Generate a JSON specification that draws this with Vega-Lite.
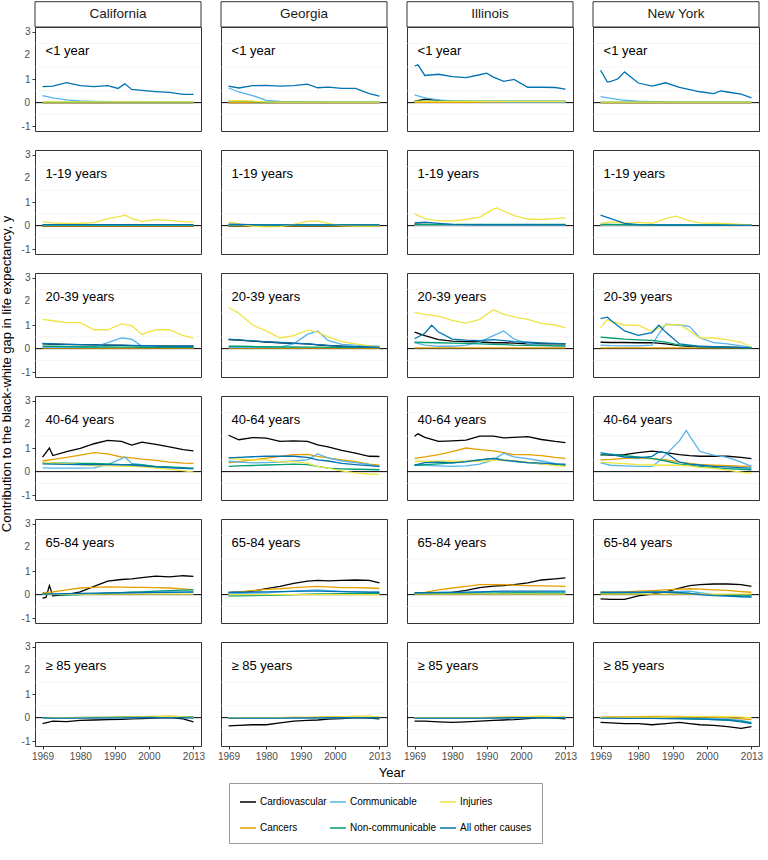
{
"$schema":"https://vega.github.io/schema/vega-lite/v6.json",
"background":"white",
"padding":{"left":0,"top":0,"right":0,"bottom":0},
"bounds":"flush",
"data":{"values":[
{"s":"CA","a":1,"y":1969,"cv":0,"ca":0,"co":0.3,"nc":0.02,"in":0.03,"ot":0.68},
{"s":"CA","a":1,"y":1972,"cv":0,"ca":0,"co":0.2,"nc":0.02,"in":0.03,"ot":0.7},
{"s":"CA","a":1,"y":1976,"cv":0,"ca":0,"co":0.12,"nc":0.02,"in":0.03,"ot":0.85},
{"s":"CA","a":1,"y":1980,"cv":0,"ca":0,"co":0.07,"nc":0.02,"in":0.03,"ot":0.72},
{"s":"CA","a":1,"y":1984,"cv":0,"ca":0,"co":0.05,"nc":0.02,"in":0.03,"ot":0.68},
{"s":"CA","a":1,"y":1988,"cv":0,"ca":0,"co":0.04,"nc":0.02,"in":0.03,"ot":0.72},
{"s":"CA","a":1,"y":1991,"ot":0.6},
{"s":"CA","a":1,"y":1992,"cv":0,"ca":0,"co":0.03,"nc":0.02,"in":0.03,"ot":0.7},
{"s":"CA","a":1,"y":1993,"ot":0.8},
{"s":"CA","a":1,"y":1995,"cv":0,"ca":0,"co":0.03,"nc":0.02,"in":0.03,"ot":0.56},
{"s":"CA","a":1,"y":1998,"cv":0,"ca":0,"co":0.02,"nc":0.02,"in":0.03,"ot":0.52},
{"s":"CA","a":1,"y":2002,"cv":0,"ca":0,"co":0.02,"nc":0.02,"in":0.03,"ot":0.47},
{"s":"CA","a":1,"y":2006,"cv":0,"ca":0,"co":0.02,"nc":0.02,"in":0.03,"ot":0.43},
{"s":"CA","a":1,"y":2010,"cv":0,"ca":0,"co":0.02,"nc":0.02,"in":0.03,"ot":0.35},
{"s":"CA","a":1,"y":2013,"cv":0,"ca":0,"co":0.02,"nc":0.02,"in":0.03,"ot":0.35},
{"s":"CA","a":2,"y":1969,"cv":-0.03,"ca":-0.02,"co":0.01,"nc":0.03,"in":0.16,"ot":0.04},
{"s":"CA","a":2,"y":1972,"cv":-0.03,"ca":-0.02,"co":0.01,"nc":0.03,"in":0.12,"ot":0.04},
{"s":"CA","a":2,"y":1976,"cv":-0.03,"ca":-0.02,"co":0.01,"nc":0.03,"in":0.09,"ot":0.04},
{"s":"CA","a":2,"y":1980,"cv":-0.03,"ca":-0.02,"co":0.01,"nc":0.03,"in":0.1,"ot":0.04},
{"s":"CA","a":2,"y":1984,"cv":-0.03,"ca":-0.02,"co":0.01,"nc":0.03,"in":0.13,"ot":0.04},
{"s":"CA","a":2,"y":1988,"cv":-0.03,"ca":-0.02,"co":0.01,"nc":0.03,"in":0.3,"ot":0.04},
{"s":"CA","a":2,"y":1992,"cv":-0.03,"ca":-0.02,"co":0.01,"nc":0.03,"in":0.4,"ot":0.04},
{"s":"CA","a":2,"y":1993,"in":0.45},
{"s":"CA","a":2,"y":1995,"cv":-0.03,"ca":-0.02,"co":0.01,"nc":0.03,"in":0.3,"ot":0.04},
{"s":"CA","a":2,"y":1998,"cv":-0.03,"ca":-0.02,"co":0.01,"nc":0.03,"in":0.18,"ot":0.04},
{"s":"CA","a":2,"y":2002,"cv":-0.03,"ca":-0.02,"co":0.01,"nc":0.03,"in":0.25,"ot":0.04},
{"s":"CA","a":2,"y":2006,"cv":-0.03,"ca":-0.02,"co":0.01,"nc":0.03,"in":0.22,"ot":0.04},
{"s":"CA","a":2,"y":2010,"cv":-0.03,"ca":-0.02,"co":0.01,"nc":0.03,"in":0.17,"ot":0.04},
{"s":"CA","a":2,"y":2013,"cv":-0.03,"ca":-0.02,"co":0.01,"nc":0.03,"in":0.16,"ot":0.04},
{"s":"CA","a":3,"y":1969,"in":1.24,"co":0.05,"cv":0.2,"ot":0.22,"nc":0.1,"ca":0.02},
{"s":"CA","a":3,"y":1972,"in":1.18,"co":0.05,"cv":0.19,"ot":0.2,"nc":0.1,"ca":0.02},
{"s":"CA","a":3,"y":1976,"in":1.1,"co":0.05,"cv":0.18,"ot":0.18,"nc":0.09,"ca":0.02},
{"s":"CA","a":3,"y":1980,"in":1.1,"co":0.05,"cv":0.17,"ot":0.17,"nc":0.08,"ca":0.02},
{"s":"CA","a":3,"y":1984,"in":0.8,"co":0.06,"cv":0.16,"ot":0.16,"nc":0.07,"ca":0.02},
{"s":"CA","a":3,"y":1988,"in":0.8,"co":0.25,"cv":0.15,"ot":0.15,"nc":0.07,"ca":0.02},
{"s":"CA","a":3,"y":1992,"in":1.05,"co":0.45,"cv":0.14,"ot":0.15,"nc":0.06,"ca":0.02},
{"s":"CA","a":3,"y":1995,"in":0.97,"co":0.4,"cv":0.13,"ot":0.14,"nc":0.06,"ca":0.02},
{"s":"CA","a":3,"y":1998,"in":0.6,"co":0.1,"cv":0.12,"ot":0.13,"nc":0.05,"ca":0.02},
{"s":"CA","a":3,"y":2002,"in":0.8,"co":0.07,"cv":0.11,"ot":0.12,"nc":0.05,"ca":0.02},
{"s":"CA","a":3,"y":2006,"in":0.8,"co":0.06,"cv":0.1,"ot":0.11,"nc":0.05,"ca":0.02},
{"s":"CA","a":3,"y":2010,"in":0.55,"co":0.06,"cv":0.1,"ot":0.1,"nc":0.05,"ca":0.02},
{"s":"CA","a":3,"y":2013,"in":0.45,"co":0.05,"cv":0.1,"ot":0.1,"nc":0.05,"ca":0.02},
{"s":"CA","a":4,"y":1969,"cv":0.61,"ca":0.45,"nc":0.38,"ot":0.33,"co":0.16,"in":0.4},
{"s":"CA","a":4,"y":1971,"cv":1.0},
{"s":"CA","a":4,"y":1972,"cv":0.68,"ca":0.52,"nc":0.37,"ot":0.32,"co":0.15,"in":0.37},
{"s":"CA","a":4,"y":1976,"cv":0.85,"ca":0.6,"nc":0.36,"ot":0.31,"co":0.15,"in":0.34},
{"s":"CA","a":4,"y":1980,"cv":0.98,"ca":0.7,"nc":0.35,"ot":0.3,"co":0.15,"in":0.3},
{"s":"CA","a":4,"y":1984,"cv":1.18,"ca":0.8,"nc":0.35,"ot":0.3,"co":0.16,"in":0.26},
{"s":"CA","a":4,"y":1988,"cv":1.32,"ca":0.75,"nc":0.33,"ot":0.3,"co":0.3,"in":0.24},
{"s":"CA","a":4,"y":1992,"cv":1.28,"ca":0.62,"nc":0.3,"ot":0.29,"co":0.55,"in":0.22},
{"s":"CA","a":4,"y":1993,"co":0.62},
{"s":"CA","a":4,"y":1995,"cv":1.12,"ca":0.58,"nc":0.3,"ot":0.28,"co":0.35,"in":0.22},
{"s":"CA","a":4,"y":1998,"cv":1.25,"ca":0.53,"nc":0.28,"ot":0.25,"co":0.3,"in":0.2},
{"s":"CA","a":4,"y":2002,"cv":1.15,"ca":0.48,"nc":0.22,"ot":0.2,"co":0.2,"in":0.15},
{"s":"CA","a":4,"y":2006,"cv":1.05,"ca":0.4,"nc":0.2,"ot":0.17,"co":0.17,"in":0.1},
{"s":"CA","a":4,"y":2010,"cv":0.93,"ca":0.36,"nc":0.17,"ot":0.14,"co":0.14,"in":0.04},
{"s":"CA","a":4,"y":2013,"cv":0.88,"ca":0.35,"nc":0.15,"ot":0.13,"co":0.13,"in":-0.02},
{"s":"CA","a":5,"y":1969,"cv":-0.15,"ca":0.08,"nc":0.05,"ot":0.03,"co":0.02,"in":0.02},
{"s":"CA","a":5,"y":1970,"cv":-0.12},
{"s":"CA","a":5,"y":1971,"cv":0.38},
{"s":"CA","a":5,"y":1972,"cv":-0.05,"ca":0.12,"nc":0,"ot":0.03,"co":0.02,"in":0.02},
{"s":"CA","a":5,"y":1976,"cv":0,"ca":0.2,"nc":-0.02,"ot":0.04,"co":0.02,"in":0.02},
{"s":"CA","a":5,"y":1980,"cv":0.12,"ca":0.28,"nc":0,"ot":0.05,"co":0.03,"in":0.02},
{"s":"CA","a":5,"y":1984,"cv":0.35,"ca":0.31,"nc":0.03,"ot":0.06,"co":0.04,"in":0.02},
{"s":"CA","a":5,"y":1988,"cv":0.57,"ca":0.33,"nc":0.06,"ot":0.07,"co":0.06,"in":0.02},
{"s":"CA","a":5,"y":1992,"cv":0.64,"ca":0.32,"nc":0.08,"ot":0.08,"co":0.08,"in":0.02},
{"s":"CA","a":5,"y":1995,"cv":0.67,"ca":0.31,"nc":0.1,"ot":0.08,"co":0.1,"in":0.02},
{"s":"CA","a":5,"y":1998,"cv":0.72,"ca":0.31,"nc":0.12,"ot":0.09,"co":0.08,"in":0.02},
{"s":"CA","a":5,"y":2002,"cv":0.78,"ca":0.3,"nc":0.15,"ot":0.1,"co":0.08,"in":0.02},
{"s":"CA","a":5,"y":2006,"cv":0.75,"ca":0.28,"nc":0.17,"ot":0.1,"co":0.09,"in":0.02},
{"s":"CA","a":5,"y":2010,"cv":0.8,"ca":0.24,"nc":0.19,"ot":0.11,"co":0.1,"in":0.02},
{"s":"CA","a":5,"y":2013,"cv":0.77,"ca":0.2,"nc":0.2,"ot":0.12,"co":0.1,"in":0.02},
{"s":"CA","a":6,"y":1969,"cv":-0.25,"ca":-0.02,"in":0,"ot":0,"co":-0.02,"nc":0},
{"s":"CA","a":6,"y":1972,"cv":-0.15,"ca":-0.02,"in":0,"ot":-0.02,"co":-0.02,"nc":0},
{"s":"CA","a":6,"y":1976,"cv":-0.17,"ca":-0.01,"in":0,"ot":-0.02,"co":-0.02,"nc":0},
{"s":"CA","a":6,"y":1980,"cv":-0.12,"ca":0,"in":0,"ot":-0.02,"co":-0.02,"nc":0.01},
{"s":"CA","a":6,"y":1984,"cv":-0.1,"ca":0,"in":0.01,"ot":-0.01,"co":-0.01,"nc":0.01},
{"s":"CA","a":6,"y":1988,"cv":-0.08,"ca":0.01,"in":0.01,"ot":-0.01,"co":-0.01,"nc":0.01},
{"s":"CA","a":6,"y":1992,"cv":-0.07,"ca":0.02,"in":0.01,"ot":-0.01,"co":-0.01,"nc":0.02},
{"s":"CA","a":6,"y":1995,"cv":-0.05,"ca":0.03,"in":0.02,"ot":0,"co":-0.01,"nc":0.02},
{"s":"CA","a":6,"y":1998,"cv":-0.04,"ca":0.04,"in":0.02,"ot":0,"co":0,"nc":0.02},
{"s":"CA","a":6,"y":2002,"cv":-0.02,"ca":0.05,"in":0.03,"ot":0,"co":0,"nc":0.03},
{"s":"CA","a":6,"y":2006,"cv":0,"ca":0.06,"in":0.06,"ot":0,"co":0,"nc":0.03},
{"s":"CA","a":6,"y":2010,"cv":-0.05,"ca":0.04,"in":0.03,"ot":0,"co":0,"nc":0.03},
{"s":"CA","a":6,"y":2013,"cv":-0.18,"ca":0.02,"in":0,"ot":-0.02,"co":0,"nc":0.03},
{"s":"GA","a":1,"y":1969,"ot":0.7,"co":0.62,"in":0.08,"nc":0.06,"cv":0,"ca":0},
{"s":"GA","a":1,"y":1972,"ot":0.62,"co":0.45,"in":0.08,"nc":0.06,"cv":0,"ca":0},
{"s":"GA","a":1,"y":1976,"ot":0.72,"co":0.3,"in":0.06,"nc":0.04,"cv":0,"ca":0},
{"s":"GA","a":1,"y":1980,"ot":0.73,"co":0.1,"in":0.03,"nc":0.02,"cv":0,"ca":0},
{"s":"GA","a":1,"y":1984,"ot":0.7,"co":0.05,"in":0.02,"nc":0.02,"cv":0,"ca":0},
{"s":"GA","a":1,"y":1988,"ot":0.72,"co":0.04,"in":0.02,"nc":0.02,"cv":0,"ca":0},
{"s":"GA","a":1,"y":1992,"ot":0.78,"co":0.03,"in":0.02,"nc":0.02,"cv":0,"ca":0},
{"s":"GA","a":1,"y":1995,"ot":0.63,"co":0.03,"in":0.02,"nc":0.02,"cv":0,"ca":0},
{"s":"GA","a":1,"y":1998,"ot":0.66,"co":0.02,"in":0.02,"nc":0.02,"cv":0,"ca":0},
{"s":"GA","a":1,"y":2002,"ot":0.6,"co":0.02,"in":0.02,"nc":0.02,"cv":0,"ca":0},
{"s":"GA","a":1,"y":2006,"ot":0.6,"co":0.02,"in":0.02,"nc":0.02,"cv":0,"ca":0},
{"s":"GA","a":1,"y":2010,"ot":0.38,"co":0.02,"in":0.02,"nc":0.02,"cv":0,"ca":0},
{"s":"GA","a":1,"y":2013,"ot":0.28,"co":0.02,"in":0.02,"nc":0.02,"cv":0,"ca":0},
{"s":"GA","a":2,"y":1969,"in":0.15,"ot":0.06,"co":0.02,"nc":0.03,"cv":-0.02,"ca":-0.01},
{"s":"GA","a":2,"y":1972,"in":0.08,"ot":0.05,"co":0.02,"nc":0.03,"cv":-0.02,"ca":-0.01},
{"s":"GA","a":2,"y":1976,"in":-0.03,"ot":0.04,"co":0.02,"nc":0.03,"cv":-0.02,"ca":-0.01},
{"s":"GA","a":2,"y":1980,"in":-0.05,"ot":0.03,"co":0.02,"nc":0.03,"cv":-0.02,"ca":-0.01},
{"s":"GA","a":2,"y":1984,"in":-0.04,"ot":0.03,"co":0.02,"nc":0.03,"cv":-0.02,"ca":-0.01},
{"s":"GA","a":2,"y":1988,"in":0.05,"ot":0.03,"co":0.02,"nc":0.03,"cv":-0.02,"ca":-0.01},
{"s":"GA","a":2,"y":1992,"in":0.18,"ot":0.03,"co":0.02,"nc":0.03,"cv":-0.02,"ca":-0.01},
{"s":"GA","a":2,"y":1995,"in":0.2,"ot":0.03,"co":0.02,"nc":0.03,"cv":-0.02,"ca":-0.01},
{"s":"GA","a":2,"y":1998,"in":0.1,"ot":0.03,"co":0.02,"nc":0.03,"cv":-0.02,"ca":-0.01},
{"s":"GA","a":2,"y":2002,"in":0,"ot":0.03,"co":0.02,"nc":0.03,"cv":-0.02,"ca":-0.01},
{"s":"GA","a":2,"y":2006,"in":-0.02,"ot":0.03,"co":0.02,"nc":0.03,"cv":-0.02,"ca":-0.01},
{"s":"GA","a":2,"y":2010,"in":-0.02,"ot":0.03,"co":0.02,"nc":0.03,"cv":-0.02,"ca":-0.01},
{"s":"GA","a":2,"y":2013,"in":-0.02,"ot":0.03,"co":0.02,"nc":0.03,"cv":-0.02,"ca":-0.01},
{"s":"GA","a":3,"y":1969,"in":1.74,"co":0.05,"cv":0.38,"ot":0.4,"nc":0.1,"ca":0.02},
{"s":"GA","a":3,"y":1972,"in":1.5,"co":0.05,"cv":0.36,"ot":0.37,"nc":0.1,"ca":0.02},
{"s":"GA","a":3,"y":1976,"in":1.0,"co":0.05,"cv":0.32,"ot":0.33,"nc":0.09,"ca":0.02},
{"s":"GA","a":3,"y":1980,"in":0.75,"co":0.05,"cv":0.28,"ot":0.29,"nc":0.08,"ca":0.02},
{"s":"GA","a":3,"y":1984,"in":0.45,"co":0.06,"cv":0.25,"ot":0.26,"nc":0.07,"ca":0.02},
{"s":"GA","a":3,"y":1988,"in":0.55,"co":0.2,"cv":0.22,"ot":0.23,"nc":0.07,"ca":0.02},
{"s":"GA","a":3,"y":1992,"in":0.78,"co":0.6,"cv":0.2,"ot":0.2,"nc":0.06,"ca":0.02},
{"s":"GA","a":3,"y":1995,"in":0.7,"co":0.75,"cv":0.16,"ot":0.17,"nc":0.06,"ca":0.02},
{"s":"GA","a":3,"y":1998,"in":0.5,"co":0.35,"cv":0.13,"ot":0.14,"nc":0.05,"ca":0.02},
{"s":"GA","a":3,"y":2002,"in":0.3,"co":0.18,"cv":0.1,"ot":0.1,"nc":0.05,"ca":0.02},
{"s":"GA","a":3,"y":2006,"in":0.2,"co":0.15,"cv":0.08,"ot":0.08,"nc":0.05,"ca":0.02},
{"s":"GA","a":3,"y":2010,"in":0.12,"co":0.12,"cv":0.06,"ot":0.07,"nc":0.05,"ca":0.02},
{"s":"GA","a":3,"y":2013,"in":0.08,"co":0.1,"cv":0.05,"ot":0.06,"nc":0.05,"ca":0.02},
{"s":"GA","a":4,"y":1969,"cv":1.54,"ca":0.37,"ot":0.58,"co":0.44,"in":0.55,"nc":0.22},
{"s":"GA","a":4,"y":1972,"cv":1.35,"ca":0.42,"ot":0.6,"co":0.4,"in":0.53,"nc":0.24},
{"s":"GA","a":4,"y":1976,"cv":1.44,"ca":0.5,"ot":0.63,"co":0.37,"in":0.5,"nc":0.26},
{"s":"GA","a":4,"y":1980,"cv":1.42,"ca":0.57,"ot":0.65,"co":0.38,"in":0.5,"nc":0.28},
{"s":"GA","a":4,"y":1984,"cv":1.28,"ca":0.65,"ot":0.65,"co":0.4,"in":0.4,"nc":0.3},
{"s":"GA","a":4,"y":1988,"cv":1.3,"ca":0.72,"ot":0.65,"co":0.45,"in":0.43,"nc":0.32},
{"s":"GA","a":4,"y":1992,"cv":1.28,"ca":0.73,"ot":0.6,"co":0.5,"in":0.35,"nc":0.3},
{"s":"GA","a":4,"y":1995,"cv":1.13,"ca":0.65,"ot":0.5,"co":0.75,"in":0.22,"nc":0.22},
{"s":"GA","a":4,"y":1998,"cv":1.05,"ca":0.58,"ot":0.45,"co":0.58,"in":0.15,"nc":0.15},
{"s":"GA","a":4,"y":2002,"cv":0.9,"ca":0.5,"ot":0.35,"co":0.45,"in":0.03,"nc":0.12},
{"s":"GA","a":4,"y":2006,"cv":0.78,"ca":0.42,"ot":0.3,"co":0.38,"in":-0.05,"nc":0.1},
{"s":"GA","a":4,"y":2010,"cv":0.65,"ca":0.32,"ot":0.25,"co":0.3,"in":-0.1,"nc":0.09},
{"s":"GA","a":4,"y":2013,"cv":0.64,"ca":0.27,"ot":0.22,"co":0.2,"in":-0.12,"nc":0.08},
{"s":"GA","a":5,"y":1969,"cv":0.08,"ca":0.08,"ot":0.1,"co":0.05,"nc":-0.05,"in":0},
{"s":"GA","a":5,"y":1972,"cv":0.1,"ca":0.12,"ot":0.1,"co":0.05,"nc":-0.05,"in":0},
{"s":"GA","a":5,"y":1976,"cv":0.15,"ca":0.17,"ot":0.11,"co":0.06,"nc":-0.04,"in":0},
{"s":"GA","a":5,"y":1980,"cv":0.25,"ca":0.22,"ot":0.12,"co":0.08,"nc":-0.03,"in":0},
{"s":"GA","a":5,"y":1984,"cv":0.35,"ca":0.25,"ot":0.13,"co":0.12,"nc":-0.02,"in":0},
{"s":"GA","a":5,"y":1988,"cv":0.48,"ca":0.3,"ot":0.14,"co":0.15,"nc":0,"in":0},
{"s":"GA","a":5,"y":1992,"cv":0.57,"ca":0.33,"ot":0.15,"co":0.18,"nc":0.02,"in":0},
{"s":"GA","a":5,"y":1995,"cv":0.6,"ca":0.35,"ot":0.15,"co":0.2,"nc":0.03,"in":0},
{"s":"GA","a":5,"y":1998,"cv":0.58,"ca":0.33,"ot":0.14,"co":0.17,"nc":0.03,"in":0},
{"s":"GA","a":5,"y":2002,"cv":0.6,"ca":0.3,"ot":0.13,"co":0.14,"nc":0.04,"in":0},
{"s":"GA","a":5,"y":2006,"cv":0.62,"ca":0.3,"ot":0.12,"co":0.12,"nc":0.05,"in":0},
{"s":"GA","a":5,"y":2010,"cv":0.6,"ca":0.28,"ot":0.11,"co":0.1,"nc":0.05,"in":0},
{"s":"GA","a":5,"y":2013,"cv":0.5,"ca":0.26,"ot":0.1,"co":0.1,"nc":0.05,"in":0},
{"s":"GA","a":6,"y":1969,"cv":-0.35,"ca":-0.02,"in":0,"ot":-0.02,"co":-0.01,"nc":0},
{"s":"GA","a":6,"y":1972,"cv":-0.33,"ca":-0.02,"in":0,"ot":-0.02,"co":-0.01,"nc":0},
{"s":"GA","a":6,"y":1976,"cv":-0.3,"ca":-0.01,"in":0,"ot":-0.02,"co":-0.01,"nc":0},
{"s":"GA","a":6,"y":1980,"cv":-0.3,"ca":0,"in":0,"ot":-0.02,"co":-0.01,"nc":0},
{"s":"GA","a":6,"y":1984,"cv":-0.22,"ca":0,"in":0,"ot":-0.02,"co":-0.01,"nc":0},
{"s":"GA","a":6,"y":1988,"cv":-0.15,"ca":0.01,"in":0.01,"ot":-0.01,"co":-0.01,"nc":0},
{"s":"GA","a":6,"y":1992,"cv":-0.12,"ca":0.01,"in":0.01,"ot":-0.01,"co":-0.01,"nc":0},
{"s":"GA","a":6,"y":1995,"cv":-0.1,"ca":0.02,"in":0.02,"ot":-0.01,"co":0,"nc":0},
{"s":"GA","a":6,"y":1998,"cv":-0.06,"ca":0.03,"in":0.02,"ot":0,"co":0,"nc":0},
{"s":"GA","a":6,"y":2002,"cv":-0.04,"ca":0.04,"in":0.03,"ot":0,"co":0,"nc":0},
{"s":"GA","a":6,"y":2006,"cv":0,"ca":0.05,"in":0.05,"ot":0,"co":0,"nc":0},
{"s":"GA","a":6,"y":2010,"cv":-0.02,"ca":0.05,"in":0.05,"ot":0,"co":0,"nc":0},
{"s":"GA","a":6,"y":2013,"cv":-0.05,"ca":0.03,"in":0.02,"ot":0,"co":0,"nc":0},
{"s":"IL","a":1,"y":1969,"ot":1.55,"co":0.33,"cv":0.05,"nc":0.06,"in":0.05,"ca":0.01},
{"s":"IL","a":1,"y":1970,"ot":1.6},
{"s":"IL","a":1,"y":1972,"ot":1.15,"co":0.2,"cv":0.15,"nc":0.06,"in":0.05,"ca":0.01},
{"s":"IL","a":1,"y":1976,"ot":1.2,"co":0.12,"cv":0.1,"nc":0.06,"in":0.05,"ca":0.01},
{"s":"IL","a":1,"y":1980,"ot":1.1,"co":0.07,"cv":0.03,"nc":0.06,"in":0.05,"ca":0.01},
{"s":"IL","a":1,"y":1984,"ot":1.06,"co":0.05,"cv":0.02,"nc":0.06,"in":0.05,"ca":0.01},
{"s":"IL","a":1,"y":1988,"ot":1.18,"co":0.04,"cv":0.02,"nc":0.06,"in":0.05,"ca":0.01},
{"s":"IL","a":1,"y":1990,"ot":1.25},
{"s":"IL","a":1,"y":1992,"ot":1.08,"co":0.03,"cv":0.02,"nc":0.06,"in":0.05,"ca":0.01},
{"s":"IL","a":1,"y":1995,"ot":0.9,"co":0.03,"cv":0.02,"nc":0.06,"in":0.05,"ca":0.01},
{"s":"IL","a":1,"y":1998,"ot":0.98,"co":0.02,"cv":0.02,"nc":0.06,"in":0.05,"ca":0.01},
{"s":"IL","a":1,"y":2002,"ot":0.65,"co":0.02,"cv":0.02,"nc":0.06,"in":0.05,"ca":0.01},
{"s":"IL","a":1,"y":2006,"ot":0.65,"co":0.02,"cv":0.02,"nc":0.06,"in":0.05,"ca":0.01},
{"s":"IL","a":1,"y":2010,"ot":0.64,"co":0.02,"cv":0.02,"nc":0.06,"in":0.05,"ca":0.01},
{"s":"IL","a":1,"y":2013,"ot":0.57,"co":0.02,"cv":0.02,"nc":0.06,"in":0.05,"ca":0.01},
{"s":"IL","a":2,"y":1969,"in":0.5,"ot":0.12,"cv":0.06,"nc":0.05,"co":0.02,"ca":0.01},
{"s":"IL","a":2,"y":1972,"in":0.3,"ot":0.15,"cv":0.05,"nc":0.05,"co":0.02,"ca":0.01},
{"s":"IL","a":2,"y":1976,"in":0.2,"ot":0.1,"cv":0.04,"nc":0.05,"co":0.02,"ca":0.01},
{"s":"IL","a":2,"y":1980,"in":0.2,"ot":0.05,"cv":0.03,"nc":0.05,"co":0.02,"ca":0.01},
{"s":"IL","a":2,"y":1984,"in":0.26,"ot":0.04,"cv":0.03,"nc":0.05,"co":0.02,"ca":0.01},
{"s":"IL","a":2,"y":1988,"in":0.36,"ot":0.03,"cv":0.03,"nc":0.05,"co":0.02,"ca":0.01},
{"s":"IL","a":2,"y":1992,"in":0.7,"ot":0.03,"cv":0.03,"nc":0.05,"co":0.02,"ca":0.01},
{"s":"IL","a":2,"y":1993,"in":0.75},
{"s":"IL","a":2,"y":1995,"in":0.62,"ot":0.03,"cv":0.03,"nc":0.05,"co":0.02,"ca":0.01},
{"s":"IL","a":2,"y":1998,"in":0.42,"ot":0.03,"cv":0.03,"nc":0.05,"co":0.02,"ca":0.01},
{"s":"IL","a":2,"y":2002,"in":0.28,"ot":0.03,"cv":0.03,"nc":0.05,"co":0.02,"ca":0.01},
{"s":"IL","a":2,"y":2006,"in":0.26,"ot":0.03,"cv":0.03,"nc":0.05,"co":0.02,"ca":0.01},
{"s":"IL","a":2,"y":2010,"in":0.3,"ot":0.03,"cv":0.03,"nc":0.05,"co":0.02,"ca":0.01},
{"s":"IL","a":2,"y":2013,"in":0.33,"ot":0.03,"cv":0.03,"nc":0.05,"co":0.02,"ca":0.01},
{"s":"IL","a":3,"y":1969,"in":1.53,"ot":0.42,"cv":0.7,"co":0.25,"nc":0.27,"ca":0.03},
{"s":"IL","a":3,"y":1972,"in":1.45,"ot":0.65,"cv":0.55,"co":0.15,"nc":0.26,"ca":0.03},
{"s":"IL","a":3,"y":1974,"ot":0.99},
{"s":"IL","a":3,"y":1976,"in":1.38,"ot":0.7,"cv":0.38,"co":0.1,"nc":0.25,"ca":0.03},
{"s":"IL","a":3,"y":1980,"in":1.2,"ot":0.4,"cv":0.32,"co":0.1,"nc":0.23,"ca":0.03},
{"s":"IL","a":3,"y":1984,"in":1.08,"ot":0.36,"cv":0.3,"co":0.15,"nc":0.22,"ca":0.03},
{"s":"IL","a":3,"y":1988,"in":1.24,"ot":0.34,"cv":0.28,"co":0.28,"nc":0.2,"ca":0.03},
{"s":"IL","a":3,"y":1992,"in":1.65,"ot":0.38,"cv":0.25,"co":0.55,"nc":0.18,"ca":0.03},
{"s":"IL","a":3,"y":1995,"in":1.45,"ot":0.34,"cv":0.25,"co":0.75,"nc":0.17,"ca":0.03},
{"s":"IL","a":3,"y":1998,"in":1.34,"ot":0.3,"cv":0.23,"co":0.4,"nc":0.15,"ca":0.03},
{"s":"IL","a":3,"y":2002,"in":1.24,"ot":0.27,"cv":0.2,"co":0.22,"nc":0.14,"ca":0.03},
{"s":"IL","a":3,"y":2006,"in":1.07,"ot":0.24,"cv":0.2,"co":0.15,"nc":0.13,"ca":0.03},
{"s":"IL","a":3,"y":2010,"in":1.0,"ot":0.22,"cv":0.2,"co":0.12,"nc":0.12,"ca":0.03},
{"s":"IL","a":3,"y":2013,"in":0.88,"ot":0.2,"cv":0.2,"co":0.1,"nc":0.12,"ca":0.03},
{"s":"IL","a":4,"y":1969,"cv":1.5,"ca":0.56,"ot":0.27,"co":0.27,"nc":0.27,"in":0.44},
{"s":"IL","a":4,"y":1970,"cv":1.6},
{"s":"IL","a":4,"y":1972,"cv":1.45,"ca":0.62,"ot":0.38,"co":0.27,"nc":0.3,"in":0.44},
{"s":"IL","a":4,"y":1976,"cv":1.28,"ca":0.72,"ot":0.4,"co":0.24,"nc":0.33,"in":0.44},
{"s":"IL","a":4,"y":1980,"cv":1.3,"ca":0.85,"ot":0.37,"co":0.22,"nc":0.37,"in":0.44},
{"s":"IL","a":4,"y":1984,"cv":1.33,"ca":1.0,"ot":0.42,"co":0.24,"nc":0.42,"in":0.44},
{"s":"IL","a":4,"y":1988,"cv":1.5,"ca":0.93,"ot":0.5,"co":0.32,"nc":0.5,"in":0.44},
{"s":"IL","a":4,"y":1992,"cv":1.5,"ca":0.88,"ot":0.56,"co":0.5,"nc":0.56,"in":0.48},
{"s":"IL","a":4,"y":1995,"cv":1.43,"ca":0.8,"ot":0.48,"co":0.78,"nc":0.5,"in":0.5},
{"s":"IL","a":4,"y":1998,"cv":1.45,"ca":0.72,"ot":0.44,"co":0.62,"nc":0.44,"in":0.45},
{"s":"IL","a":4,"y":2002,"cv":1.48,"ca":0.72,"ot":0.38,"co":0.55,"nc":0.38,"in":0.4},
{"s":"IL","a":4,"y":2006,"cv":1.36,"ca":0.68,"ot":0.36,"co":0.45,"nc":0.33,"in":0.33},
{"s":"IL","a":4,"y":2010,"cv":1.28,"ca":0.6,"ot":0.33,"co":0.35,"nc":0.3,"in":0.26},
{"s":"IL","a":4,"y":2013,"cv":1.23,"ca":0.56,"ot":0.32,"co":0.27,"nc":0.27,"in":0.22},
{"s":"IL","a":5,"y":1969,"cv":0.02,"ca":0.05,"ot":0.08,"co":0.05,"nc":0.05,"in":0.02},
{"s":"IL","a":5,"y":1972,"cv":0.03,"ca":0.1,"ot":0.08,"co":0.05,"nc":0.05,"in":0.02},
{"s":"IL","a":5,"y":1976,"cv":0.05,"ca":0.2,"ot":0.09,"co":0.06,"nc":0.04,"in":0.02},
{"s":"IL","a":5,"y":1980,"cv":0.1,"ca":0.28,"ot":0.1,"co":0.07,"nc":0.04,"in":0.02},
{"s":"IL","a":5,"y":1984,"cv":0.18,"ca":0.35,"ot":0.11,"co":0.08,"nc":0.05,"in":0.02},
{"s":"IL","a":5,"y":1988,"cv":0.3,"ca":0.42,"ot":0.12,"co":0.1,"nc":0.06,"in":0.02},
{"s":"IL","a":5,"y":1992,"cv":0.36,"ca":0.42,"ot":0.14,"co":0.12,"nc":0.06,"in":0.02},
{"s":"IL","a":5,"y":1995,"cv":0.38,"ca":0.42,"ot":0.15,"co":0.12,"nc":0.07,"in":0.02},
{"s":"IL","a":5,"y":1998,"cv":0.42,"ca":0.4,"ot":0.15,"co":0.11,"nc":0.07,"in":0.02},
{"s":"IL","a":5,"y":2002,"cv":0.5,"ca":0.38,"ot":0.15,"co":0.1,"nc":0.07,"in":0.02},
{"s":"IL","a":5,"y":2006,"cv":0.62,"ca":0.37,"ot":0.15,"co":0.1,"nc":0.06,"in":0.02},
{"s":"IL","a":5,"y":2010,"cv":0.67,"ca":0.36,"ot":0.15,"co":0.1,"nc":0.06,"in":0.02},
{"s":"IL","a":5,"y":2013,"cv":0.71,"ca":0.35,"ot":0.15,"co":0.1,"nc":0.05,"in":0.02},
{"s":"IL","a":6,"y":1969,"cv":-0.15,"ca":0,"in":0,"ot":-0.02,"co":-0.01,"nc":0},
{"s":"IL","a":6,"y":1972,"cv":-0.15,"ca":0,"in":0,"ot":-0.02,"co":-0.01,"nc":0},
{"s":"IL","a":6,"y":1976,"cv":-0.18,"ca":0,"in":0,"ot":-0.02,"co":-0.01,"nc":0},
{"s":"IL","a":6,"y":1980,"cv":-0.2,"ca":0,"in":0,"ot":-0.02,"co":-0.01,"nc":0},
{"s":"IL","a":6,"y":1984,"cv":-0.18,"ca":0,"in":0,"ot":-0.02,"co":-0.01,"nc":0},
{"s":"IL","a":6,"y":1988,"cv":-0.15,"ca":0,"in":0,"ot":-0.02,"co":-0.01,"nc":0},
{"s":"IL","a":6,"y":1992,"cv":-0.12,"ca":0.01,"in":0.01,"ot":-0.01,"co":-0.01,"nc":0},
{"s":"IL","a":6,"y":1995,"cv":-0.1,"ca":0.02,"in":0.02,"ot":-0.01,"co":0,"nc":0},
{"s":"IL","a":6,"y":1998,"cv":-0.08,"ca":0.03,"in":0.03,"ot":0,"co":0,"nc":0},
{"s":"IL","a":6,"y":2002,"cv":-0.04,"ca":0.04,"in":0.04,"ot":0,"co":0,"nc":0},
{"s":"IL","a":6,"y":2006,"cv":0,"ca":0.05,"in":0.06,"ot":0,"co":0,"nc":0},
{"s":"IL","a":6,"y":2010,"cv":-0.02,"ca":0.04,"in":0.04,"ot":0,"co":0,"nc":0},
{"s":"IL","a":6,"y":2013,"cv":-0.05,"ca":0.02,"in":0.02,"ot":0,"co":0,"nc":0},
{"s":"NY","a":1,"y":1969,"ot":1.37,"co":0.25,"cv":0,"ca":0,"nc":0.02,"in":0.02},
{"s":"NY","a":1,"y":1971,"ot":0.87},
{"s":"NY","a":1,"y":1972,"ot":0.9,"co":0.18,"cv":0,"ca":0,"nc":0.02,"in":0.02},
{"s":"NY","a":1,"y":1974,"ot":1.0},
{"s":"NY","a":1,"y":1976,"ot":1.3,"co":0.1,"cv":0,"ca":0,"nc":0.02,"in":0.02},
{"s":"NY","a":1,"y":1980,"ot":0.83,"co":0.06,"cv":0,"ca":0,"nc":0.02,"in":0.02},
{"s":"NY","a":1,"y":1984,"ot":0.7,"co":0.04,"cv":0,"ca":0,"nc":0.02,"in":0.02},
{"s":"NY","a":1,"y":1988,"ot":0.84,"co":0.03,"cv":0,"ca":0,"nc":0.02,"in":0.02},
{"s":"NY","a":1,"y":1992,"ot":0.65,"co":0.02,"cv":0,"ca":0,"nc":0.02,"in":0.02},
{"s":"NY","a":1,"y":1995,"ot":0.55,"co":0.02,"cv":0,"ca":0,"nc":0.02,"in":0.02},
{"s":"NY","a":1,"y":1998,"ot":0.46,"co":0.02,"cv":0,"ca":0,"nc":0.02,"in":0.02},
{"s":"NY","a":1,"y":2002,"ot":0.38,"co":0.02,"cv":0,"ca":0,"nc":0.02,"in":0.02},
{"s":"NY","a":1,"y":2004,"ot":0.5},
{"s":"NY","a":1,"y":2006,"ot":0.45,"co":0.02,"cv":0,"ca":0,"nc":0.02,"in":0.02},
{"s":"NY","a":1,"y":2010,"ot":0.36,"co":0.02,"cv":0,"ca":0,"nc":0.02,"in":0.02},
{"s":"NY","a":1,"y":2013,"ot":0.2,"co":0.02,"cv":0,"ca":0,"nc":0.02,"in":0.02},
{"s":"NY","a":2,"y":1969,"ot":0.44,"in":0.1,"nc":0.06,"cv":0.02,"ca":0.01,"co":0.02},
{"s":"NY","a":2,"y":1972,"ot":0.3,"in":0.16,"nc":0.05,"cv":0.02,"ca":0.01,"co":0.02},
{"s":"NY","a":2,"y":1976,"ot":0.1,"in":0.11,"nc":0.04,"cv":0.02,"ca":0.01,"co":0.02},
{"s":"NY","a":2,"y":1980,"ot":0.04,"in":0.14,"nc":0.03,"cv":0.02,"ca":0.01,"co":0.02},
{"s":"NY","a":2,"y":1984,"ot":0.03,"in":0.1,"nc":0.03,"cv":0.02,"ca":0.01,"co":0.02},
{"s":"NY","a":2,"y":1988,"ot":0.02,"in":0.3,"nc":0.03,"cv":0.02,"ca":0.01,"co":0.02},
{"s":"NY","a":2,"y":1991,"in":0.4},
{"s":"NY","a":2,"y":1992,"ot":0.02,"in":0.35,"nc":0.03,"cv":0.02,"ca":0.01,"co":0.02},
{"s":"NY","a":2,"y":1995,"ot":0.02,"in":0.2,"nc":0.03,"cv":0.02,"ca":0.01,"co":0.02},
{"s":"NY","a":2,"y":1998,"ot":0.02,"in":0.12,"nc":0.03,"cv":0.02,"ca":0.01,"co":0.02},
{"s":"NY","a":2,"y":2002,"ot":0.02,"in":0.1,"nc":0.03,"cv":0.02,"ca":0.01,"co":0.02},
{"s":"NY","a":2,"y":2006,"ot":0.02,"in":0.08,"nc":0.03,"cv":0.02,"ca":0.01,"co":0.02},
{"s":"NY","a":2,"y":2010,"ot":0.02,"in":0.05,"nc":0.03,"cv":0.02,"ca":0.01,"co":0.02},
{"s":"NY","a":2,"y":2013,"ot":0.02,"in":0.03,"nc":0.03,"cv":0.02,"ca":0.01,"co":0.02},
{"s":"NY","a":3,"y":1969,"in":0.89,"ot":1.27,"co":0.15,"nc":0.49,"cv":0.27,"ca":0.03},
{"s":"NY","a":3,"y":1971,"in":1.23,"ot":1.33},
{"s":"NY","a":3,"y":1972,"in":1.15,"ot":1.2,"co":0.13,"nc":0.45,"cv":0.26,"ca":0.03},
{"s":"NY","a":3,"y":1976,"in":1.0,"ot":0.75,"co":0.12,"nc":0.4,"cv":0.26,"ca":0.03},
{"s":"NY","a":3,"y":1980,"in":0.99,"ot":0.56,"co":0.12,"nc":0.37,"cv":0.25,"ca":0.03},
{"s":"NY","a":3,"y":1984,"in":0.72,"ot":0.68,"co":0.15,"nc":0.35,"cv":0.25,"ca":0.03},
{"s":"NY","a":3,"y":1986,"ot":0.99,"co":0.63},
{"s":"NY","a":3,"y":1988,"in":1.0,"ot":0.7,"co":1.03,"nc":0.28,"cv":0.2,"ca":0.03},
{"s":"NY","a":3,"y":1992,"in":1.03,"ot":0.2,"co":1.0,"nc":0.15,"cv":0.13,"ca":0.03},
{"s":"NY","a":3,"y":1995,"in":0.75,"ot":0.15,"co":0.93,"nc":0.12,"cv":0.1,"ca":0.03},
{"s":"NY","a":3,"y":1998,"in":0.45,"ot":0.1,"co":0.45,"nc":0.08,"cv":0.08,"ca":0.03},
{"s":"NY","a":3,"y":2002,"in":0.45,"ot":0.08,"co":0.25,"nc":0.06,"cv":0.07,"ca":0.03},
{"s":"NY","a":3,"y":2006,"in":0.38,"ot":0.06,"co":0.2,"nc":0.05,"cv":0.06,"ca":0.03},
{"s":"NY","a":3,"y":2010,"in":0.27,"ot":0.04,"co":0.12,"nc":0.04,"cv":0.05,"ca":0.03},
{"s":"NY","a":3,"y":2013,"in":0.06,"ot":0.03,"co":0.05,"nc":0.03,"cv":0.05,"ca":0.03},
{"s":"NY","a":4,"y":1969,"cv":0.72,"co":0.37,"ot":0.8,"nc":0.7,"ca":0.5,"in":0.4},
{"s":"NY","a":4,"y":1972,"cv":0.7,"co":0.27,"ot":0.72,"nc":0.74,"ca":0.52,"in":0.37},
{"s":"NY","a":4,"y":1976,"cv":0.72,"co":0.24,"ot":0.62,"nc":0.68,"ca":0.56,"in":0.34},
{"s":"NY","a":4,"y":1980,"cv":0.8,"co":0.22,"ot":0.58,"nc":0.62,"ca":0.58,"in":0.3},
{"s":"NY","a":4,"y":1984,"cv":0.87,"co":0.22,"ot":0.65,"nc":0.56,"ca":0.55,"in":0.28},
{"s":"NY","a":4,"y":1986,"ot":0.83,"co":0.44},
{"s":"NY","a":4,"y":1988,"cv":0.8,"co":0.72,"ot":0.8,"nc":0.45,"ca":0.5,"in":0.27},
{"s":"NY","a":4,"y":1992,"cv":0.72,"co":1.3,"ot":0.4,"nc":0.32,"ca":0.4,"in":0.27},
{"s":"NY","a":4,"y":1994,"co":1.74},
{"s":"NY","a":4,"y":1995,"cv":0.68,"co":1.5,"ot":0.32,"nc":0.27,"ca":0.35,"in":0.24},
{"s":"NY","a":4,"y":1998,"cv":0.65,"co":0.85,"ot":0.28,"nc":0.22,"ca":0.3,"in":0.18},
{"s":"NY","a":4,"y":2002,"cv":0.65,"co":0.7,"ot":0.22,"nc":0.17,"ca":0.27,"in":0.14},
{"s":"NY","a":4,"y":2006,"cv":0.65,"co":0.6,"ot":0.2,"nc":0.13,"ca":0.25,"in":0.06},
{"s":"NY","a":4,"y":2010,"cv":0.6,"co":0.4,"ot":0.17,"nc":0.1,"ca":0.23,"in":-0.02},
{"s":"NY","a":4,"y":2013,"cv":0.55,"co":0.22,"ot":0.15,"nc":0.08,"ca":0.22,"in":-0.07},
{"s":"NY","a":5,"y":1969,"cv":-0.18,"ca":0.1,"ot":0.1,"co":0.05,"nc":0.05,"in":0.02},
{"s":"NY","a":5,"y":1972,"cv":-0.2,"ca":0.1,"ot":0.1,"co":0.05,"nc":0.05,"in":0.02},
{"s":"NY","a":5,"y":1976,"cv":-0.2,"ca":0.12,"ot":0.1,"co":0.06,"nc":0.06,"in":0.02},
{"s":"NY","a":5,"y":1980,"cv":-0.05,"ca":0.15,"ot":0.1,"co":0.08,"nc":0.08,"in":0.02},
{"s":"NY","a":5,"y":1984,"cv":0.02,"ca":0.17,"ot":0.1,"co":0.1,"nc":0.1,"in":0.02},
{"s":"NY","a":5,"y":1988,"cv":0.12,"ca":0.2,"ot":0.1,"co":0.12,"nc":0.1,"in":0.02},
{"s":"NY","a":5,"y":1992,"cv":0.28,"ca":0.23,"ot":0.08,"co":0.14,"nc":0.08,"in":0.02},
{"s":"NY","a":5,"y":1995,"cv":0.38,"ca":0.25,"ot":0.05,"co":0.15,"nc":0.05,"in":0.02},
{"s":"NY","a":5,"y":1998,"cv":0.42,"ca":0.23,"ot":0,"co":0.08,"nc":0.02,"in":0.02},
{"s":"NY","a":5,"y":2002,"cv":0.45,"ca":0.2,"ot":-0.04,"co":0,"nc":0,"in":0.02},
{"s":"NY","a":5,"y":2006,"cv":0.45,"ca":0.18,"ot":-0.06,"co":-0.03,"nc":-0.03,"in":0.02},
{"s":"NY","a":5,"y":2010,"cv":0.42,"ca":0.13,"ot":-0.09,"co":-0.05,"nc":-0.05,"in":0.02},
{"s":"NY","a":5,"y":2013,"cv":0.35,"ca":0.1,"ot":-0.1,"co":-0.06,"nc":-0.05,"in":0.02},
{"s":"NY","a":6,"y":1969,"cv":-0.2,"ot":-0.02,"nc":0,"co":0,"ca":0.02,"in":0},
{"s":"NY","a":6,"y":1972,"cv":-0.22,"ot":-0.02,"nc":0,"co":0,"ca":0.03,"in":0},
{"s":"NY","a":6,"y":1976,"cv":-0.25,"ot":-0.03,"nc":0,"co":0,"ca":0.03,"in":0},
{"s":"NY","a":6,"y":1980,"cv":-0.25,"ot":-0.03,"nc":-0.01,"co":-0.01,"ca":0.04,"in":0.01},
{"s":"NY","a":6,"y":1984,"cv":-0.3,"ot":-0.03,"nc":-0.02,"co":-0.01,"ca":0.05,"in":0.01},
{"s":"NY","a":6,"y":1988,"cv":-0.25,"ot":-0.04,"nc":-0.03,"co":-0.02,"ca":0.05,"in":0.02},
{"s":"NY","a":6,"y":1992,"cv":-0.2,"ot":-0.04,"nc":-0.04,"co":-0.02,"ca":0.05,"in":0.03},
{"s":"NY","a":6,"y":1995,"cv":-0.25,"ot":-0.05,"nc":-0.05,"co":-0.03,"ca":0.04,"in":0.03},
{"s":"NY","a":6,"y":1998,"cv":-0.3,"ot":-0.06,"nc":-0.06,"co":-0.03,"ca":0.03,"in":0.04},
{"s":"NY","a":6,"y":2002,"cv":-0.33,"ot":-0.08,"nc":-0.08,"co":-0.04,"ca":0.02,"in":0.05},
{"s":"NY","a":6,"y":2006,"cv":-0.38,"ot":-0.1,"nc":-0.1,"co":-0.05,"ca":0,"in":0.04},
{"s":"NY","a":6,"y":2010,"cv":-0.45,"ot":-0.18,"nc":-0.15,"co":-0.12,"ca":-0.05,"in":0.02},
{"s":"NY","a":6,"y":2013,"cv":-0.38,"ot":-0.25,"nc":-0.22,"co":-0.2,"ca":-0.08,"in":0}
]},
"transform":[
{"lookup":"a","from":{"data":{"values":[{"a":1,"t":"<1 year"},{"a":2,"t":"1-19 years"},{"a":3,"t":"20-39 years"},{"a":4,"t":"40-64 years"},{"a":5,"t":"65-84 years"},{"a":6,"t":"≥ 85 years"}]},"key":"a","fields":["t"]}},
{"fold":["cv","ca","co","nc","in","ot"],"as":["k","v"]},
{"filter":"isValid(datum.v)"}
],
"facet":{
"row":{"field":"a","type":"ordinal","title":"Contribution to the black-white gap in life expectancy, y","header":{"labels":false,"titleFontSize":13,"titleFontWeight":"normal","titleColor":"black","titlePadding":-3}},
"column":{"field":"s","type":"nominal","title":"Year","header":{"labelOrient":"top","titleOrient":"bottom","labelExpr":"{'CA':'California','GA':'Georgia','IL':'Illinois','NY':'New York'}[datum.value]","labelFontSize":13.5,"labelColor":"#1A1A1A","labelPadding":7,"titleFontSize":13,"titleFontWeight":"normal","titleColor":"black","titlePadding":-4}}
},
"spacing":{"row":19,"column":20},
"spec":{
"width":166,"height":104,
"layer":[
{"transform":[{"filter":"datum.y == 1969 && datum.k == 'cv'"}],
 "mark":{"type":"rule","color":"#EBEBEB","strokeWidth":0.5},
 "encoding":{"y":{"datum":-0.5}}},
{"transform":[{"filter":"datum.y == 1969 && datum.k == 'cv'"}],
 "mark":{"type":"rule","color":"#EBEBEB","strokeWidth":0.5},
 "encoding":{"y":{"datum":0.5}}},
{"transform":[{"filter":"datum.y == 1969 && datum.k == 'cv'"}],
 "mark":{"type":"rule","color":"#EBEBEB","strokeWidth":0.5},
 "encoding":{"y":{"datum":1.5}}},
{"transform":[{"filter":"datum.y == 1969 && datum.k == 'cv'"}],
 "mark":{"type":"rule","color":"#EBEBEB","strokeWidth":0.5},
 "encoding":{"y":{"datum":2.5}}},
{"transform":[{"filter":"datum.a == 1 && datum.y == 1969 && datum.k == 'cv'"}],
 "mark":{"type":"rect","fill":null,"fillOpacity":0,"stroke":"#333333","strokeWidth":1,"clip":false},
 "encoding":{"x":{"datum":1966.8},"x2":{"datum":2015.2},"y":{"datum":3.2},"y2":{"datum":4.27}}},
{"transform":[{"filter":"datum.s == 'CA' && datum.y == 1969 && datum.k == 'cv'"}],
 "mark":{"type":"text","align":"right","baseline":"middle","dx":-5,"fontSize":10,"color":"#4D4D4D","clip":false},
 "encoding":{"x":{"datum":1966.8},"y":{"datum":0},"text":{"value":"0"}}},
{"transform":[{"filter":"datum.s == 'CA' && datum.y == 1969 && datum.k == 'cv'"}],
 "mark":{"type":"text","align":"right","baseline":"middle","dx":-5,"fontSize":10,"color":"#4D4D4D","clip":false},
 "encoding":{"x":{"datum":1966.8},"y":{"datum":2},"text":{"value":"2"}}},
{"transform":[{"filter":"datum.y == 1969 && datum.k == 'cv'"}],
 "mark":{"type":"rule","color":"black","strokeWidth":1},
 "encoding":{"y":{"datum":0}}},
{"mark":{"type":"line","strokeWidth":1.3},
 "encoding":{
  "x":{"field":"y","type":"quantitative","scale":{"domain":[1966.8,2015.2],"nice":false,"zero":false},
   "axis":{"title":null,"values":[1969,1974.5,1980,1985,1990,1995,2000,2006.5,2013],"labelOverlap":false,
    "labelExpr":"indexof([1969,1980,1990,2000,2013], datum.value) >= 0 ? '' + datum.value : ''",
    "gridWidth":{"condition":{"test":"indexof([1969,1980,1990,2000,2013], datum.value) < 0","value":0.5},"value":1},
    "tickOpacity":{"condition":{"test":"indexof([1969,1980,1990,2000,2013], datum.value) < 0","value":0},"value":1}}},
  "y":{"field":"v","type":"quantitative","scale":{"domain":[-1.2,3.2],"nice":false,"zero":false},
   "axis":{"title":null,"values":[-1,0,1,2,3],"labelOverlap":false,"labelExpr":"'' + datum.value","gridWidth":1}},
  "color":{"field":"k","type":"nominal",
   "scale":{"domain":["cv","co","in","ca","nc","ot"],"range":["#000000","#56B4E9","#F0E442","#E69F00","#009E73","#0072B2"]},
   "legend":{"title":null,"orient":"none","legendX":194,"legendY":756,"direction":"horizontal","columns":3,
    "labelExpr":"{'cv':'Cardiovascular','co':'Communicable','in':'Injuries','ca':'Cancers','nc':'Non-communicable','ot':'All other causes'}[datum.value]",
    "symbolType":"stroke","symbolSize":256,"symbolStrokeWidth":1.5,"labelFontSize":10,"labelColor":"black","labelOffset":3,
    "strokeColor":"#999999","padding":10,"columnPadding":0,"rowPadding":12}}
 }},
{"transform":[{"filter":"datum.y == 1969 && datum.k == 'cv'"}],
 "mark":{"type":"text","align":"left","baseline":"middle","fontSize":13,"dx":3,"color":"black"},
 "encoding":{"x":{"datum":1969},"y":{"datum":2.2},"text":{"field":"t"}}}
]
},
"config":{
"font":"Liberation Sans",
"view":{"stroke":"#333333","strokeWidth":1},
"axis":{"domain":false,"gridColor":"#EBEBEB","labelColor":"#4D4D4D","labelFontSize":10,"tickColor":"#333333","tickSize":3,"labelPadding":2,"labelOverlap":false},
"header":{"labelFont":"Liberation Sans","titleFont":"Liberation Sans"}
}
}
